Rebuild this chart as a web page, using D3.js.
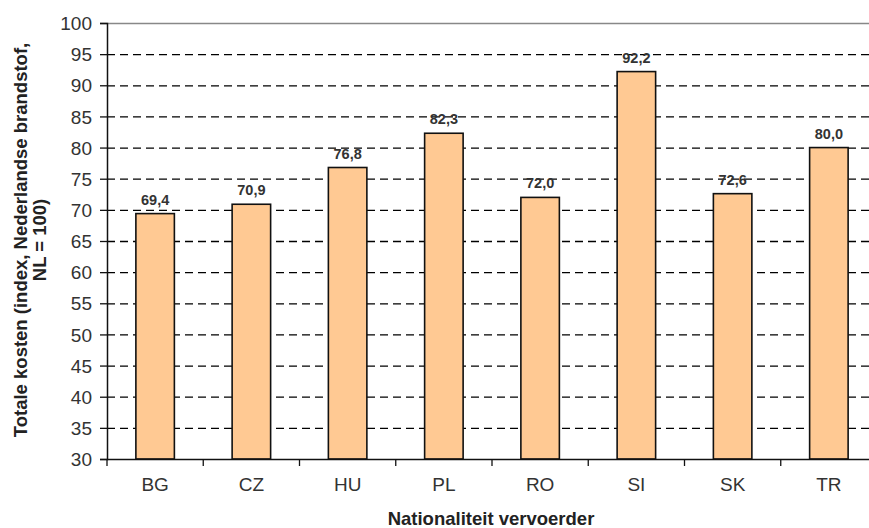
<!DOCTYPE html>
<html><head><meta charset="utf-8">
<script src="https://cdn.jsdelivr.net/npm/d3@7"></script>
<style>body{margin:0;background:#fff}svg{display:block}text{font-family:Arial,"Liberation Sans",sans-serif}</style>
</head><body><svg id="c" width="869" height="528"></svg>
<script>
const categories = ["BG","CZ","HU","PL","RO","SI","SK","TR"];
const values = [69.4,70.9,76.8,82.3,72.0,92.2,72.6,80.0];
const yTicks = [30,35,40,45,50,55,60,65,70,75,80,85,90,95,100];
const yTitle = ["Totale kosten (index, Nederlandse brandstof,","NL = 100)"];
const xTitle = "Nationaliteit vervoerder";

const svg = d3.select("#c");
const L=107, R=877, T=23, B=459;
const x = d3.scaleBand().domain(categories).range([L,R]).paddingInner(0.6).paddingOuter(0.3);
const y = d3.scaleLinear().domain([30,100]).range([B,T]);
const FF = "Arial,'Liberation Sans',sans-serif";

// gridlines
svg.append("g").selectAll("line").data(yTicks.filter(d=>d>30&&d<100)).join("line")
  .attr("x1",L).attr("x2",R).attr("y1",d=>y(d)+0.5).attr("y2",d=>y(d)+0.5)
  .attr("stroke","#000").attr("stroke-width",1.3).attr("stroke-dasharray","8,5");
// top border
svg.append("line").attr("x1",L).attr("x2",R).attr("y1",y(100)+0.5).attr("y2",y(100)+0.5)
  .attr("stroke","#888").attr("stroke-width",1.3);

// bars
svg.append("g").selectAll("rect").data(values).join("rect")
  .attr("x",(d,i)=>x(categories[i])).attr("width",x.bandwidth())
  .attr("y",d=>y(d)).attr("height",d=>B-y(d))
  .attr("fill","#FFC993").attr("stroke","#111").attr("stroke-width",1.6);

// value labels
svg.append("g").selectAll("text").data(values).join("text")
  .attr("x",(d,i)=>x(categories[i])+x.bandwidth()/2).attr("y",d=>y(d)-9)
  .attr("text-anchor","middle").attr("font-size",14.5).attr("font-weight","bold").attr("fill","#333")
  .text(d=>d.toFixed(1).replace(".",","));

// y axis
const ya = svg.append("g").attr("transform",`translate(${L},0)`)
  .call(d3.axisLeft(y).tickValues(yTicks).tickSize(7).tickPadding(8).tickFormat(d3.format("d")));
ya.select(".domain").attr("stroke","#111").attr("stroke-width",1.5);
ya.selectAll(".tick line").attr("stroke","#111").attr("stroke-width",1.3);
ya.selectAll(".tick text").attr("font-size",19).attr("fill","#333").attr("font-family",FF).attr("dy","0.35em");

// x axis
const xa = svg.append("g").attr("transform",`translate(0,${B})`)
  .call(d3.axisBottom(x).tickSize(0).tickPadding(19));
xa.select(".domain").remove();
xa.selectAll(".tick text").attr("font-size",19).attr("fill","#333").attr("font-family",FF);
svg.append("line").attr("x1",L).attr("x2",R).attr("y1",B+0.5).attr("y2",B+0.5).attr("stroke","#111").attr("stroke-width",1.5);
const step = x.step();
const sep = d3.range(categories.length+1).map(i=>x(categories[0]) - x.paddingOuter()*step + i*step);
svg.append("g").selectAll("line").data(sep).join("line")
  .attr("x1",d=>d).attr("x2",d=>d).attr("y1",B).attr("y2",B+7)
  .attr("stroke","#111").attr("stroke-width",1.3);

// titles
svg.append("text").attr("x",491).attr("y",525).attr("text-anchor","middle")
  .attr("font-size",18.5).attr("font-weight","bold").attr("fill","#222").text(xTitle);
const yt = svg.append("text").attr("transform","translate(27,240) rotate(-90)")
  .attr("text-anchor","middle").attr("font-size",18.5).attr("font-weight","bold").attr("fill","#222");
yTitle.forEach((t,i)=>yt.append("tspan").attr("x",0).attr("dy",i?19:0).text(t));
</script></body></html>
